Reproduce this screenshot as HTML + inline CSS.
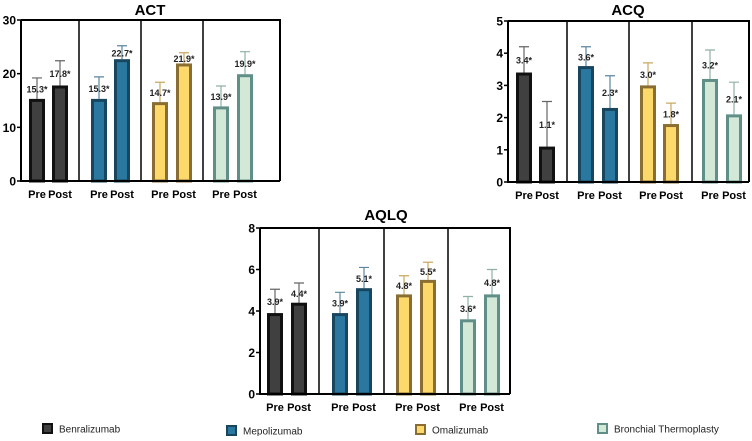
<!DOCTYPE html>
<html><head><meta charset="utf-8"><style>
body{margin:0;background:#fff;font-family:"Liberation Sans",sans-serif}
svg text{font-family:"Liberation Sans",sans-serif}
</style></head><body>
<svg id="c" width="752" height="436" xmlns="http://www.w3.org/2000/svg"></svg>
<script>
const groups=["Benralizumab","Mepolizumab","Omalizumab","Bronchial Thermoplasty"];
const xLabels=["Pre","Post"];
const actMeans=[15.3,17.8,15.3,22.7,14.7,21.9,13.9,19.9];
const actUpper=[19.2,22.4,19.4,25.2,18.4,23.9,17.7,24.1];
const actTicks=[0,10,20,30];
const acqMeans=[3.4,1.1,3.6,2.3,3.0,1.8,3.2,2.1];
const acqUpper=[4.2,2.5,4.2,3.3,3.7,2.45,4.1,3.1];
const acqTicks=[0,1,2,3,4,5];
const aqlqMeans=[3.9,4.4,3.9,5.1,4.8,5.5,3.6,4.8];
const aqlqUpper=[5.05,5.35,4.9,6.1,5.7,6.35,4.7,6.0];
const aqlqTicks=[0,2,4,6,8];
const fills=["#404040","#2a77a0","#fdd86a","#d4e8d8"];
const strokes=["#111111","#17465e","#8a6d30","#5f8f86"];
const errCol=["#666","#5a86a0","#c9a860","#8fb0a8"];
const svg=document.getElementById('c');
const NS="http://www.w3.org/2000/svg";
function mk(tag,at,parent){const e=document.createElementNS(NS,tag);for(const k in at)e.setAttribute(k,at[k]);(parent||svg).appendChild(e);return e;}
function chart(name,title,means,upper,ticks,cfg){
  const g=mk('g',{});
  
  
  const max=ticks[ticks.length-1];
  const y=v=>cfg.y0-(v/max)*(cfg.y0-cfg.yTop);
  const t=mk('text',{x:cfg.tx,y:cfg.ty,'text-anchor':'middle','font-size':15,'font-weight':'bold'},g);t.textContent=title;
  
  
  const fr=mk('path',{d:`M${cfg.ax},${cfg.yTop}H${cfg.right}V${cfg.y0}`,stroke:'#000','stroke-width':2,fill:'none'},g);
  
  
  cfg.divs.forEach(d=>{const l=mk('line',{x1:d,x2:d,y1:cfg.yTop,y2:cfg.y0,stroke:'#000','stroke-width':1.5},g);
    
    });
  means.forEach((m,i)=>{
    const gi=Math.floor(i/2),x=cfg.bars[i],w=cfg.bw;
    const xc=x+w/2;
    const e=mk('path',{d:`M${xc},${y(m)}V${y(upper[i])}M${xc-5},${y(upper[i])}H${xc+5}`,stroke:errCol[gi],'stroke-width':1.2,fill:'none'},g);
    
    
    const r=mk('rect',{x:x+1.5,y:y(m)+1.5,width:w-3,height:cfg.y0-y(m)-1.5,fill:fills[gi],stroke:strokes[gi],'stroke-width':3},g);
    
    
    const lb=mk('text',{x:xc,y:(y(m)+y(upper[i]))/2+4,'text-anchor':'middle','font-size':9,'font-weight':'bold',fill:'#222'},g);
    lb.textContent=m.toFixed(1)+'*';
    
    
    const xl=mk('text',{x:xc,y:cfg.y0+17,'text-anchor':'middle','font-size':11,'font-weight':'bold'},g);
    xl.textContent=xLabels[i%2];
    
    
  });
  ticks.forEach(v=>{
    const tl=mk('line',{x1:cfg.ax-4,x2:cfg.ax,y1:y(v),y2:y(v),stroke:'#000','stroke-width':1.5},g);
    
    
    const tt=mk('text',{x:cfg.ax-5,y:y(v)+4.5,'text-anchor':'end','font-size':12,'font-weight':'bold'},g);tt.textContent=v;
    
    
  });
  const ax=mk('path',{d:`M${cfg.ax},${cfg.yTop}V${cfg.y0}H${cfg.right}`,stroke:'#000','stroke-width':2,fill:'none'},g);
  
  
}
chart('act','ACT',actMeans,actUpper,actTicks,{ax:21,right:280,yTop:20,y0:181,tx:150,ty:15,bw:16,
  divs:[79,141,203],bars:[29,52,91,114,152,176,213,237]});
chart('acq','ACQ',acqMeans,acqUpper,acqTicks,{ax:508,right:749,yTop:21,y0:182,tx:628,ty:15,bw:16,
  divs:[567,629,692],bars:[516,539,578,602,640,663,702,726]});
chart('aqlq','AQLQ',aqlqMeans,aqlqUpper,aqlqTicks,{ax:260,right:510,yTop:228,y0:394,tx:386,ty:220,bw:16,
  divs:[319,384,448],bars:[267,291,332,356,396,420,460,484]});
const legX=[42,226,415,597],legY=[423,425,424,423];
groups.forEach((n,i)=>{
  const g=mk('g',{});
  
  
  mk('rect',{x:legX[i]+1,y:legY[i]+1,width:9,height:9,fill:fills[i],stroke:strokes[i],'stroke-width':2},g);
  const t=mk('text',{x:legX[i]+17,y:legY[i]+9.5,'font-size':10,fill:'#222'},g);t.textContent=n;
});
</script>
</body></html>
